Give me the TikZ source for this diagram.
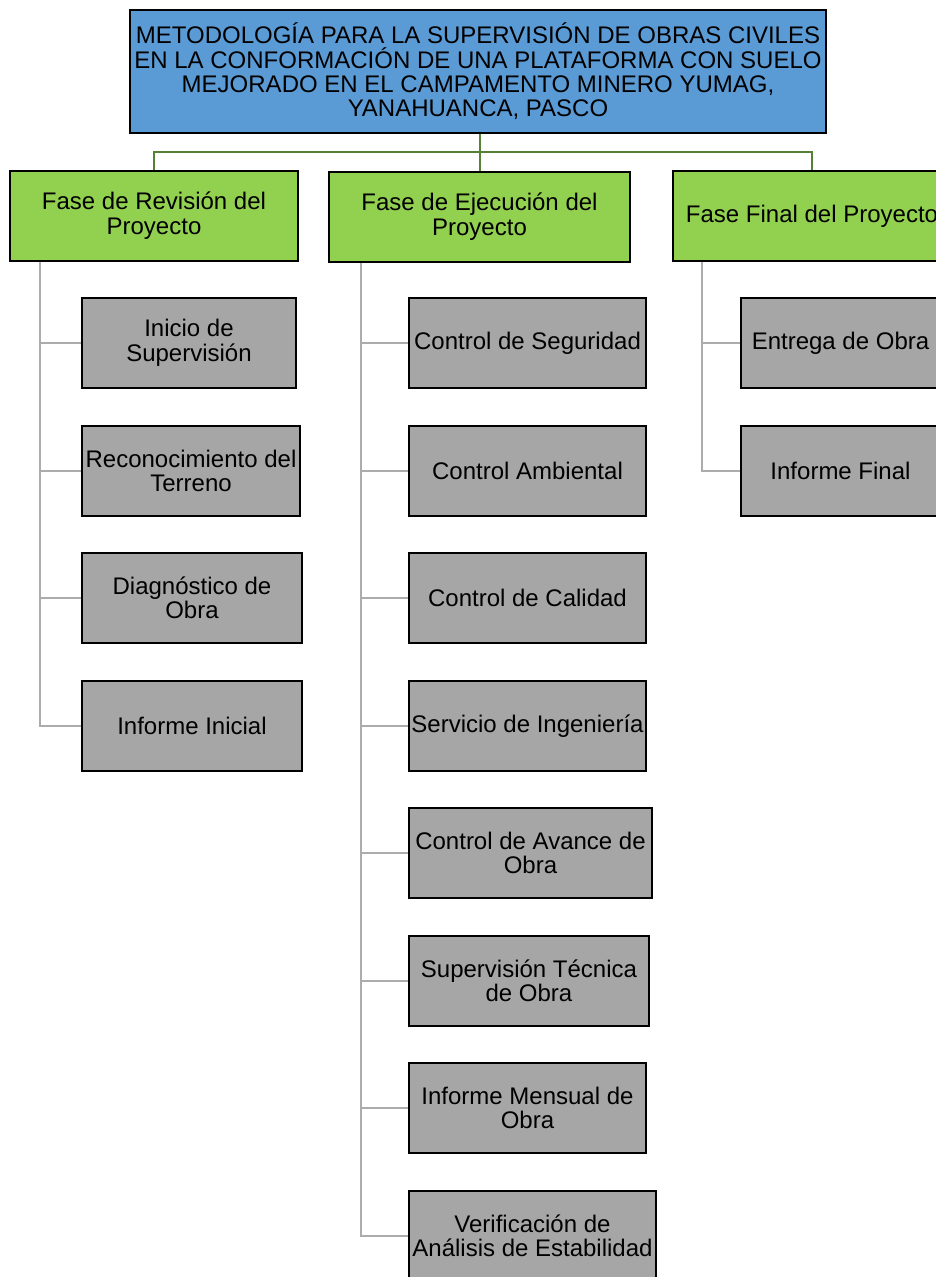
\documentclass[tikz,border=0pt]{standalone}
\usepackage{fontspec}
\setmainfont{Liberation Sans}
\usepackage{xcolor}
\definecolor{azul}{HTML}{5B9BD5}
\definecolor{verde}{HTML}{92D050}
\definecolor{gris}{HTML}{A6A6A6}
\definecolor{oliva}{HTML}{548235}
\definecolor{lgris}{HTML}{ACACAC}
\begin{document}
\begin{tikzpicture}[x=1pt,y=-1pt,
  tit/.style={rectangle,draw,line width=2pt,fill=azul,inner sep=1pt,align=center,
    minimum width=696pt,minimum height=123pt,font=\fontsize{24}{24.3}\selectfont},
  fase/.style={rectangle,draw,line width=2pt,fill=verde,inner sep=1pt,align=center,
    minimum height=90pt,font=\fontsize{24}{25}\selectfont},
  sub/.style={rectangle,draw,line width=2pt,fill=gris,inner sep=1pt,align=center,
    minimum height=90pt,font=\fontsize{24}{24.5}\selectfont},
  gc/.style={draw=oliva,line width=2pt},
  gl/.style={draw=lgris,line width=2pt}]
\clip (0,0) rectangle (936,1277);
\node[tit] (tit) at (478,71.5) {METODOLOGÍA PARA LA SUPERVISIÓN DE OBRAS CIVILES\\EN LA CONFORMACIÓN DE UNA PLATAFORMA CON SUELO\\MEJORADO EN EL CAMPAMENTO MINERO YUMAG,\\YANAHUANCA, PASCO};
\node[fase,minimum width=288pt] (rev) at (154,216) {Fase de Revisión del\\Proyecto};
\node[fase,minimum width=301pt] (eje) at (479.5,217) {Fase de Ejecución del\\Proyecto};
\node[fase,minimum width=278pt] (fin) at (812,216) {Fase Final del Proyecto};
\coordinate (bus) at (0,152);
\draw[gc] (tit.south -| eje.north) -- (eje.north);
\draw[gc] (tit.south -| eje.north) |- (rev.north |- bus) -- (rev.north);
\draw[gc] (tit.south -| eje.north) |- (fin.north |- bus) -- (fin.north);
\node[sub,minimum width=214pt] (c11) at (189,343) {Inicio de\\Supervisión};
\node[sub,minimum width=218pt] (c12) at (191,471) {Reconocimiento del\\Terreno};
\node[sub,minimum width=220pt] (c13) at (192,598) {Diagnóstico de\\Obra};
\node[sub,minimum width=220pt] (c14) at (192,726) {Informe Inicial};
\node[sub,minimum width=237pt] (c21) at (527.5,343) {Control de Seguridad};
\node[sub,minimum width=237pt] (c22) at (527.5,471) {Control Ambiental};
\node[sub,minimum width=237pt] (c23) at (527.5,598) {Control de Calidad};
\node[sub,minimum width=237pt] (c24) at (527.5,726) {Servicio de Ingeniería};
\node[sub,minimum width=243pt] (c25) at (530.5,853) {Control de Avance de\\Obra};
\node[sub,minimum width=240pt] (c26) at (529,981) {Supervisión Técnica\\de Obra};
\node[sub,minimum width=237pt] (c27) at (527.5,1108) {Informe Mensual de\\Obra};
\node[sub,minimum width=247pt] (c28) at (532.5,1236) {Verificación de\\Análisis de Estabilidad};
\node[sub,minimum width=199pt] (c31) at (840.5,343) {Entrega de Obra};
\node[sub,minimum width=199pt] (c32) at (840.5,471) {Informe Final};
\coordinate (v1) at (40,0);
\coordinate (v2) at (361,0);
\coordinate (v3) at (702,0);
\foreach \c in {c11,c12,c13,c14}
  \draw[gl] (rev.south -| v1) |- (\c.west);
\foreach \c in {c21,c22,c23,c24,c25,c26,c27,c28}
  \draw[gl] (eje.south -| v2) |- (\c.west);
\foreach \c in {c31,c32}
  \draw[gl] (fin.south -| v3) |- (\c.west);
\end{tikzpicture}
\end{document}
